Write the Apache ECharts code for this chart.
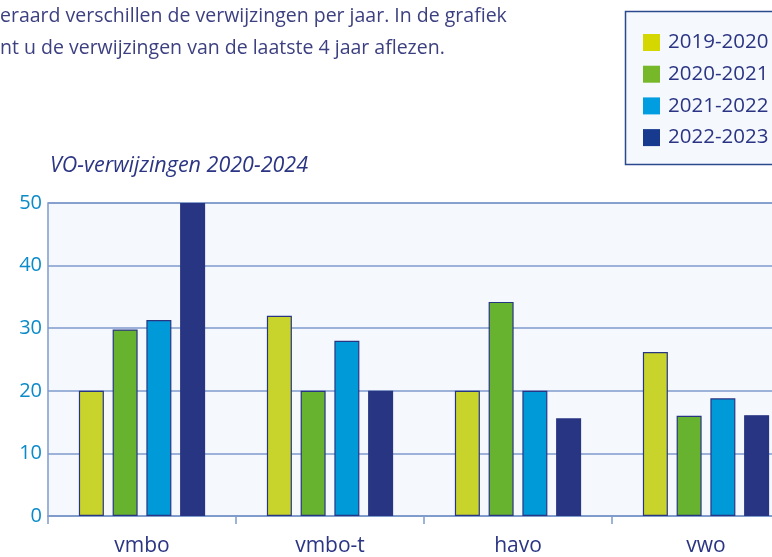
<!DOCTYPE html>
<html><head><meta charset="utf-8">
<script src="https://cdn.jsdelivr.net/npm/echarts@6/dist/echarts.min.js"></script>
<style>html,body{margin:0;padding:0;background:#fff;overflow:hidden;}#c{width:800px;height:557px;}</style>
</head><body><div id="c"></div>
<script>
const categories = ['vmbo', 'vmbo-t', 'havo', 'vwo'];
const seriesNames = ['2019-2020', '2020-2021', '2021-2022', '2022-2023'];
const s2019 = [20, 32, 20, 26.2];
const s2020 = [29.8, 20, 34.2, 16];
const s2021 = [31.3, 28, 20, 18.8];
const s2022 = [50, 20, 15.6, 16.1];
const yTicks = [0, 10, 20, 30, 40, 50];
const introLines = ['eraard verschillen de verwijzingen per jaar. In de grafiek', 'nt u de verwijzingen van de laatste 4 jaar aflezen.'];
const chartTitle = 'VO-verwijzingen 2020-2024';

const barColors = ['#c8d42c', '#67b22f', '#009ad8', '#283583'];
const legendColors = ['#d4d800', '#76b82a', '#009ee0', '#173a8f'];
const values = [s2019, s2020, s2021, s2022];
const font = '"Open Sans", "Noto Sans", sans-serif';

const chart = echarts.init(document.getElementById('c'));
chart.setOption({
  animation: false,
  textStyle: { fontFamily: font },
  graphic: [
    { type: 'text', left: 0, top: 6, style: { text: introLines[0], fill: '#3d4080', font: '19.5px ' + font } },
    { type: 'text', left: 0, top: 38, style: { text: introLines[1], fill: '#3d4080', font: '19.5px ' + font } },
    { type: 'text', left: 50, top: 155, style: { text: chartTitle, fill: '#2b3583', font: 'italic 21.5px ' + font } },
    { type: 'rect', shape: { x: 625.5, y: 11.5, width: 200, height: 153 }, style: { fill: '#f5f9fe', stroke: '#2b4a8e', lineWidth: 1.5 }, z: -1 }
  ],
  legend: {
    orient: 'vertical', left: 643, top: 32, padding: 0,
    itemWidth: 17, itemHeight: 17, itemGap: 10.7,
    icon: 'rect',
    textStyle: { color: '#2b3583', fontSize: 20.5, padding: [0, 0, 0, 3] },
    data: seriesNames.map((n, i) => ({ name: n, itemStyle: { color: legendColors[i], borderWidth: 0 } }))
  },
  grid: { left: 48, top: 203, bottom: 38.5, right: 0, show: true, backgroundColor: '#f5f9fe', borderColor: '#7f9acb', borderWidth: 1.5 },
  xAxis: {
    type: 'category', data: categories,
    axisLine: { show: true, lineStyle: { color: '#7f9acb', width: 1.5 } },
    axisTick: { show: true, length: 8, lineStyle: { color: '#7f9acb', width: 1.5 } },
    axisLabel: { color: '#2b3583', fontSize: 21, margin: 20 }
  },
  yAxis: {
    type: 'value', min: yTicks[0], max: yTicks[yTicks.length - 1], interval: 10,
    axisLine: { show: false }, axisTick: { show: false },
    axisLabel: { color: '#0a8ac8', fontSize: 20, margin: 6 },
    splitLine: { lineStyle: { color: '#7f9acb', width: 1.5 } }
  },
  series: seriesNames.map((n, i) => ({
    name: n, type: 'bar', data: values[i], barWidth: 25, barGap: '35%',
    itemStyle: { color: barColors[i], borderColor: '#283583', borderWidth: 1.2 }
  }))
});
</script></body></html>
